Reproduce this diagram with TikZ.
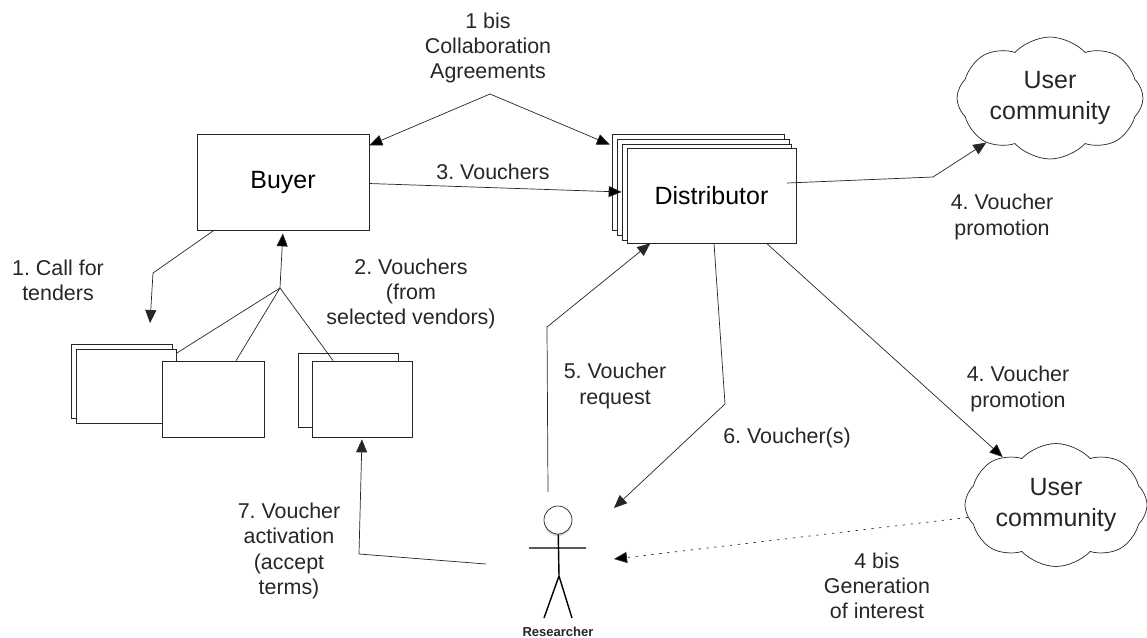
\documentclass[tikz,border=0pt]{standalone}
\usepackage{fontspec}
\setmainfont{Liberation Sans}
\frenchspacing
\usetikzlibrary{arrows.meta, shapes.symbols, shadows}
\tikzset{
x=0.02cm, y=-0.02cm, % one unit is one pixel of the layout
line width=1.05pt,
>={Triangle[length=0.26cm, width=0.22cm]}, % makes the arrow heads bold
sheet/.style={draw=black!85, fill=white, inner sep=0pt}, % the plain boxes
note/.style={align=center, text=black!85, font=\fontsize{12.2}{14.4}\selectfont}, % the texts beside the edges
community/.style={cloud, draw=black!85, fill=white, cloud puffs=8, cloud puff arc=95, inner sep=-4pt, aspect=1.5, align=center, text=black!85, font=\fontsize{14.2}{17.2}\selectfont},
}

\begin{document}
\begin{tikzpicture}
      \useasboundingbox (0,0) rectangle (1147,637);

      \node[sheet, font=\fontsize{14.2}{17}\selectfont, minimum width=3.44cm, minimum height=1.92cm] (buyer) at (283,182) {Buyer};

      \node[sheet, minimum width=3.44cm, minimum height=1.92cm] (distA) at (698,182) {};
      \node[sheet, minimum width=3.44cm, minimum height=1.92cm] (distB) at (703,187) {};
      \node[sheet, minimum width=3.38cm, minimum height=1.92cm] (distC) at (706.5,192) {};
      \node[sheet, font=\fontsize{14.2}{17}\selectfont, minimum width=3.38cm, minimum height=1.90cm] (distF) at (711.5,195.5) {Distributor};

      \node[sheet, minimum width=2.02cm, minimum height=1.48cm] (venA) at (121.5,381) {};
      \node[sheet, minimum width=2.00cm, minimum height=1.48cm] (venB) at (126,386) {};
      \node[sheet, minimum width=2.04cm, minimum height=1.52cm] (venC) at (213,399) {};
      \node[sheet, minimum width=2.00cm, minimum height=1.48cm] (venD) at (348,390) {};
      \node[sheet, minimum width=2.00cm, minimum height=1.52cm] (venE) at (362,399) {};

      \node[community, minimum width=3.72cm, minimum height=2.44cm] (cloudA) at (1050,98) {User\\community};
      \node[community, minimum width=3.64cm, minimum height=2.46cm] (cloudB) at (1056,505) {User\\community};

      \node[note] (agree) at (488,48) {1 bis\\Collaboration\\Agreements};
      \node[note] (vouchers) at (493,172) {3. Vouchers};
      \node[note] (tenders) at (58,280) {1. Call for\\tenders};
      \node[note] (selected) at (411,294) {2. Vouchers\\(from\\selected vendors)};
      \node[note] (promoA) at (1002,217) {4. Voucher\\promotion};
      \node[note] (promoB) at (1018,389) {4. Voucher\\promotion};
      \node[note] (request) at (615,386) {5. Voucher\\request};
      \node[note] (voucher) at (787,438) {6. Voucher(s)};
      \node[note] (activate) at (289,551) {7. Voucher\\activation\\(accept\\terms)};
      \node[note] (interest) at (877,586) {4 bis\\Generation\\of interest};

      % the researcher
      \node[circle, draw=black!85, fill=white, minimum size=0.56cm, inner sep=0pt, drop shadow={opacity=0.35, shadow xshift=0cm, shadow yshift=-0.04cm}] (head) at (558,520) {};
      \node[font=\bfseries\fontsize{7.4}{9}\selectfont, text=black!85] (researcher) at (558,632) {Researcher};
      \coordinate (armL) at (529,548);
      \coordinate (armR) at (586,548);
      \coordinate (hip) at (559,576);
      \coordinate (legL) at (544,618);
      \coordinate (legR) at (572,618);
      \draw[draw=black, line width=0.8pt] (head) -- (hip) -- (legL) (hip) -- (legR) (armL) -- (armR);

      % bends and free ends of the edges
      \coordinate (split) at (280,288);
      \coordinate (top) at (490,94);
      \coordinate (callbend) at (153,273);
      \coordinate (calltip) at (150,323);
      \coordinate (distout) at (787,183);
      \coordinate (distbend) at (933,177);
      \coordinate (reqstart) at (548,492);
      \coordinate (reqbend) at (547,327);
      \coordinate (voubend) at (725,404);
      \coordinate (voutip) at (614,508);
      \coordinate (actstart) at (486,564);
      \coordinate (actbend) at (359,554);
      \coordinate (heartip) at (614,559);

      \draw[draw=black!85] (top) edge[->] (buyer.23)
      (top) edge[->, shorten >=0.04cm] (distA.157)
      (buyer.-1.5) edge[->] (distC.west)
      (split) edge[->, shorten >=0.06cm] (buyer.south)
      (split) edge (venB.33)
      (split) edge (venC.59)
      (split) edge (venE.127)
      (distF.-41) edge[->] (cloudB.138)
      (cloudB.188) edge[->, dash pattern=on 1.3pt off 3.2pt] (heartip);
      \draw[->, draw=black!85] (buyer.215) -- (callbend) -- (calltip);
      \draw[->, draw=black!85] (distout) -- (distbend) -- (cloudA.215);
      \draw[->, draw=black!85] (reqstart) -- (reqbend) -- (distF.218);
      \draw[->, draw=black!85] (distF.-87) -- (voubend) -- (voutip);
      \draw[->, draw=black!85, shorten >=0.04cm] (actstart) -- (actbend) -- (venE.south);
    \end{tikzpicture}
\end{document}
